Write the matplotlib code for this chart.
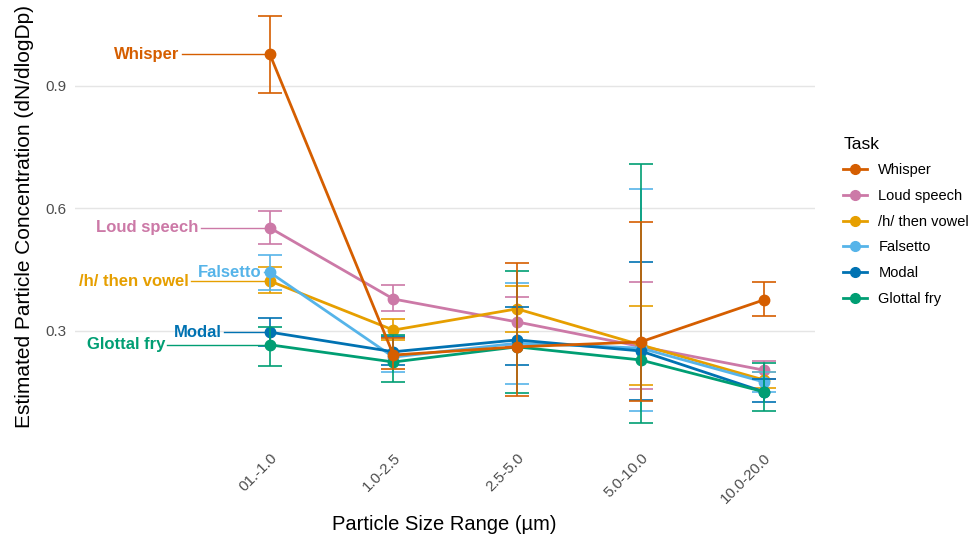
import matplotlib
matplotlib.use("Agg")
import matplotlib.pyplot as plt
import numpy as np
from matplotlib.lines import Line2D

plt.rcParams['font.family'] = ['Liberation Sans', 'DejaVu Sans']

categories = ["01.-1.0", "1.0-2.5", "2.5-5.0", "5.0-10.0", "10.0-20.0"]
tasks = ["Whisper", "Loud speech", "/h/ then vowel", "Falsetto", "Modal", "Glottal fry"]
colors = ["#D55E00", "#CC79A7", "#E69F00", "#56B4E9", "#0072B2", "#009E73"]

whisper = [0.976, 0.241, 0.261, 0.273, 0.376]
whisper_lo = [0.883, 0.207, 0.141, 0.129, 0.337]
whisper_hi = [1.071, 0.283, 0.467, 0.567, 0.420]

loud = [0.552, 0.378, 0.322, 0.262, 0.204]
loud_lo = [0.513, 0.349, 0.262, 0.158, 0.182]
loud_hi = [0.594, 0.413, 0.383, 0.420, 0.227]

hvowel = [0.422, 0.302, 0.354, 0.266, 0.180]
hvowel_lo = [0.393, 0.278, 0.297, 0.168, 0.160]
hvowel_hi = [0.457, 0.330, 0.410, 0.360, 0.200]

falsetto = [0.443, 0.236, 0.270, 0.258, 0.175]
falsetto_lo = [0.400, 0.200, 0.170, 0.104, 0.150]
falsetto_hi = [0.486, 0.288, 0.417, 0.648, 0.200]

modal = [0.297, 0.249, 0.278, 0.251, 0.151]
modal_lo = [0.262, 0.217, 0.217, 0.131, 0.126]
modal_hi = [0.332, 0.285, 0.359, 0.469, 0.182]

glottal = [0.266, 0.224, 0.261, 0.229, 0.151]
glottal_lo = [0.214, 0.175, 0.148, 0.075, 0.104]
glottal_hi = [0.310, 0.290, 0.447, 0.709, 0.222]

series = [(whisper, whisper_lo, whisper_hi), (loud, loud_lo, loud_hi),
          (hvowel, hvowel_lo, hvowel_hi), (falsetto, falsetto_lo, falsetto_hi),
          (modal, modal_lo, modal_hi), (glottal, glottal_lo, glottal_hi)]

# label x positions (in category units) for the direct labels
label_x = [-0.73, -0.58, -0.66, -0.065, -0.39, -0.85]

fig = plt.figure(figsize=(9.71, 5.37), dpi=100)
ax = fig.add_axes([0.077, 0.201, 0.762, 0.792])

x = np.arange(len(categories))
zorders = [10, 4, 5, 6, 7, 8]
for i, (name, col, (v, lo, hi)) in enumerate(zip(tasks, colors, series)):
    v = np.array(v); lo = np.array(lo); hi = np.array(hi)
    ax.errorbar(x, v, yerr=[v - lo, hi - v], fmt='none', ecolor=col,
                elinewidth=1.2, capsize=8.5, capthick=1.2, zorder=zorders[i])
    ax.plot(x, v, color=col, lw=2.0, zorder=zorders[i] + 0.1)
    ax.plot(x, v, 'o', color=col, ms=7.5, zorder=zorders[i] + 0.2)
    # direct label
    ax.plot([label_x[i] + 0.02, x[0]], [v[0], v[0]], color=col, lw=1.0,
            zorder=zorders[i])
    ax.text(label_x[i], v[0], name, color=col, fontsize=12, fontweight='bold',
            ha='right', va='center', zorder=20)

ax.set_xlim(-1.58, 4.41)
ax.set_ylim(0.06, 1.10)
ax.set_yticks([0.3, 0.6, 0.9])
ax.set_yticklabels(["0.3", "0.6", "0.9"])
ax.set_xticks(x)
ax.set_xticklabels(categories, rotation=45, ha='right', va='top',
                   rotation_mode='anchor')
ax.tick_params(axis='both', length=0, labelsize=11, labelcolor='#4d4d4d')
ax.tick_params(axis='x', pad=16)
ax.tick_params(axis='y', pad=6)
ax.grid(axis='y', color='#e5e5e5', lw=1.0)
ax.set_axisbelow(True)
for s in ax.spines.values():
    s.set_visible(False)

ax.set_xlabel("Particle Size Range (µm)", fontsize=14.5, labelpad=6)
ax.set_ylabel("Estimated Particle Concentration (dN/dlogDp)", fontsize=15, labelpad=8)

handles = [Line2D([0], [0], color=c, lw=2, marker='o', ms=7) for c in colors]
leg = fig.legend(handles, tasks, title="Task", loc='upper left',
                 bbox_to_anchor=(0.855, 0.77), frameon=False, fontsize=10.5,
                 title_fontsize=12.5, handlelength=1.6, labelspacing=0.8,
                 alignment='left')

fig.savefig("out.png", dpi=100)
